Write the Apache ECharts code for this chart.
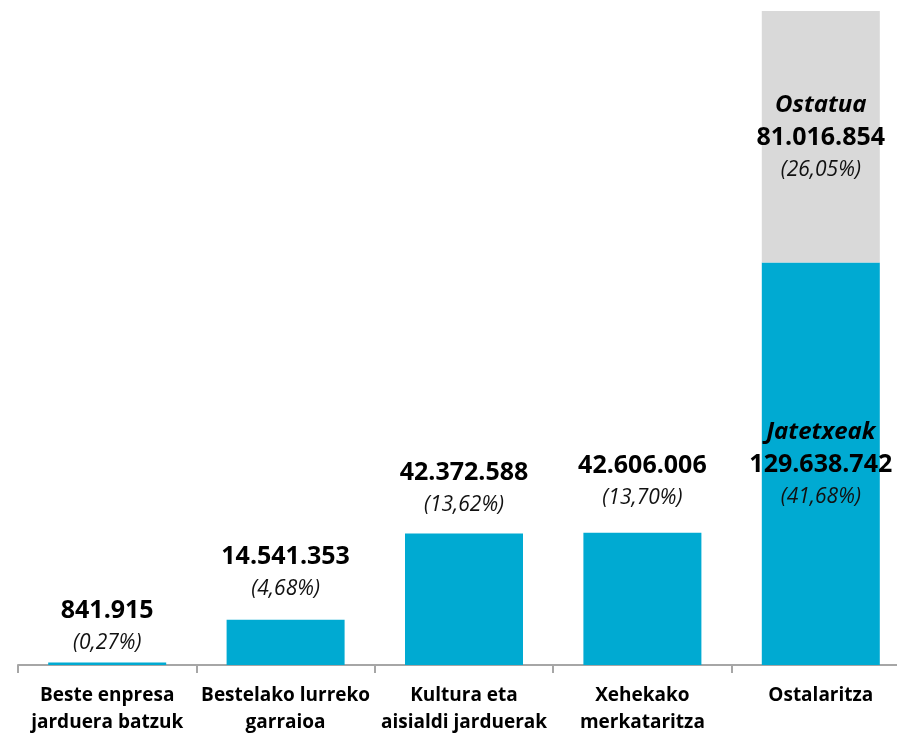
<!DOCTYPE html>
<html>
<head>
<meta charset="utf-8">
<script src="https://cdn.jsdelivr.net/npm/echarts@6/dist/echarts.min.js"></script>
<style>
  html, body { margin: 0; padding: 0; background: #fff; }
  #chart { width: 897px; height: 735px; }
</style>
</head>
<body>
<div id="chart"></div>
<script>
var categories = [
    'Beste enpresa\njarduera batzuk',
    'Bestelako lurreko\ngarraioa',
    'Kultura eta\naisialdi jarduerak',
    'Xehekako\nmerkataritza',
    'Ostalaritza'
];
var mainValues = [841915, 14541353, 42372588, 42606006, 129638742];
var mainPercents = ['0,27', '4,68', '13,62', '13,70', '41,68'];
var ostatuaValues = [null, null, null, null, 81016854];
var ostatuaPercents = [null, null, null, null, '26,05'];
var subNames = ['Jatetxeak', 'Ostatua'];

var chartDom = document.getElementById('chart');
var myChart = echarts.init(chartDom);

function fmt(n) {
    return String(n).replace(/\B(?=(\d{3})+(?!\d))/g, '.');
}

var fontName = 'Open Sans';
var richStyle = {
    n: { fontFamily: fontName, fontSize: 24, fontWeight: 'bold', fontStyle: 'italic', color: '#000', lineHeight: 34 },
    v: { fontFamily: fontName, fontSize: 25, fontWeight: 'bold', color: '#000', lineHeight: 33 },
    p: { fontFamily: fontName, fontSize: 21, fontStyle: 'italic', color: '#111', lineHeight: 31 }
};
var topGaps = [4, 15, 13, 19];

var mainData = mainValues.map(function (v, i) {
    var item = { value: v };
    if (i < 4) {
        item.label = {
            show: true,
            position: 'top',
            distance: topGaps[i],
            formatter: '{v|' + fmt(v) + '}\n{p|(' + mainPercents[i] + '%)}',
            rich: richStyle
        };
    } else {
        item.label = {
            show: true,
            position: 'inside',
            formatter: '{n|' + subNames[0] + '}\n{v|' + fmt(v) + '}\n{p|(' + mainPercents[i] + '%)}',
            rich: richStyle
        };
    }
    return item;
});

var ostatuaData = ostatuaValues.map(function (v, i) {
    if (v == null) return null;
    return {
        value: v,
        label: {
            show: true,
            position: 'inside',
            formatter: '{n|' + subNames[1] + '}\n{v|' + fmt(v) + '}\n{p|(' + ostatuaPercents[i] + '%)}',
            rich: richStyle
        }
    };
});

var option = {
    animation: false,
    grid: { left: 18, top: 11, width: 892, bottom: 70, outerBoundsMode: 'none', containLabel: false },
    xAxis: {
        type: 'category',
        data: categories,
        axisLine: { lineStyle: { color: '#a6a6a6', width: 2 } },
        axisTick: { show: true, length: 8, lineStyle: { color: '#a6a6a6', width: 2 } },
        axisLabel: {
            interval: 0,
            margin: 17,
            color: '#000',
            fontFamily: fontName,
            fontWeight: 'bold',
            fontSize: 19,
            lineHeight: 27
        }
    },
    yAxis: {
        type: 'value',
        show: false,
        min: 0,
        max: 'dataMax'
    },
    series: [
        {
            name: subNames[0],
            type: 'bar',
            stack: 'total',
            barWidth: 118,
            itemStyle: { color: '#00aad2' },
            data: mainData
        },
        {
            name: subNames[1],
            type: 'bar',
            stack: 'total',
            barWidth: 118,
            itemStyle: { color: '#d9d9d9' },
            data: ostatuaData
        }
    ]
};

myChart.setOption(option);
</script>
</body>
</html>
